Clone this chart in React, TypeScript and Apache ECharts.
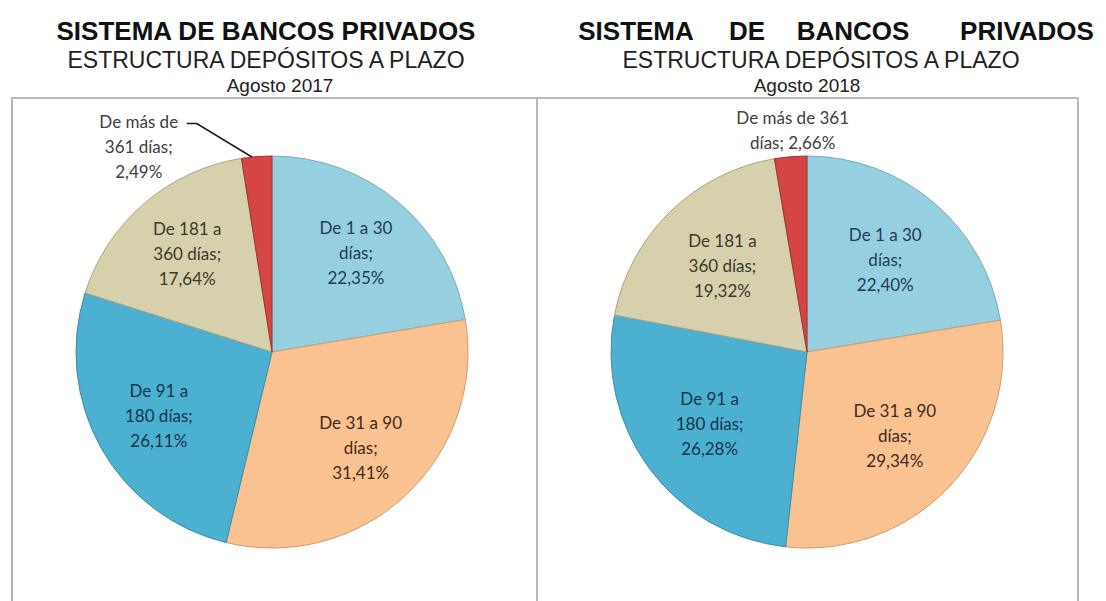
import React, { useEffect, useRef } from 'react';
import * as echarts from 'echarts';

const categories = ['De 1 a 30 días', 'De 31 a 90 días', 'De 91 a 180 días', 'De 181 a 360 días', 'De más de 361 días'];
const values2017 = [22.35, 31.41, 26.11, 17.64, 2.49];
const values2018 = [22.4, 29.34, 26.28, 19.32, 2.66];
const labelText2017 = ['De 1 a 30\ndías;', 'De 31 a 90\ndías;', 'De 91 a\n180 días;', 'De 181 a\n360 días;', 'De más de\n361 días;'];
const labelText2018 = ['De 1 a 30\ndías;', 'De 31 a 90\ndías;', 'De 91 a\n180 días;', 'De 181 a\n360 días;', 'De más de 361\ndías;'];
const valueSep2017 = ['\n', '\n', '\n', '\n', '\n'];
const valueSep2018 = ['\n', '\n', '\n', '\n', ' '];

const titleMain = 'SISTEMA DE BANCOS PRIVADOS';
const titleWords = ['SISTEMA', 'DE', 'BANCOS', 'PRIVADOS'];
const subtitle = 'ESTRUCTURA DEPÓSITOS A PLAZO';
const period2017 = 'Agosto 2017';
const period2018 = 'Agosto 2018';

const sliceColors = ['#96D0E0', '#FAC290', '#4CB1D0', '#D6D0AD', '#D64545'];
const borderColors = ['#74AEBF', '#CF9C6E', '#3A8DAA', '#ACA482', '#9E3232'];
const labelColors = ['#1F3B5A', '#3E2B1C', '#183450', '#3C3A2A', '#404040'];

const fmtPct = (v: number) => v.toFixed(2).replace('.', ',') + '%';

function buildSeries(
  values: number[],
  texts: string[],
  seps: string[],
  center: [number, number],
  radius: number,
  labelRadius: [number, number],
  withLine: boolean
) {
  const fmt = (i: number) => texts[i] + seps[i] + fmtPct(values[i]);
  const main = {
    type: 'pie',
    center,
    radius: [0, radius],
    startAngle: 90,
    clockwise: true,
    silent: true,
    avoidLabelOverlap: false,
    emphasis: { disabled: true },
    data: values.map((v, i) => ({
      value: v,
      name: categories[i],
      itemStyle: { color: sliceColors[i], borderColor: borderColors[i], borderWidth: 1 },
      label: { show: i === 4 },
      labelLine: { show: i === 4 && withLine },
    })),
    label: {
      position: 'outside',
      formatter: (p: any) => fmt(p.dataIndex),
      fontFamily: 'Lato',
      fontSize: 17,
      lineHeight: 25,
      color: labelColors[4],
      align: 'center',
    },
    labelLine: { length: 20, length2: 10, lineStyle: { color: '#1A1A1A', width: 1.5 } },
    labelLayout: (params: any) => {
      if (params.dataIndex !== 4) return {};
      const r = params.rect;
      const sx = r.x + r.width / 2;
      const sy = r.y;
      if (withLine) {
        return {
          x: sx - 118,
          y: sy - 9,
          align: 'center',
          verticalAlign: 'middle',
          labelLinePoints: [
            [sx - 4, sy + 2],
            [sx - 60, sy - 32],
            [sx - 70, sy - 32],
          ],
        };
      }
      return { x: sx + 2, y: sy - 26, align: 'center', verticalAlign: 'middle' };
    },
  };
  const labels = {
    type: 'pie',
    center,
    radius: labelRadius,
    startAngle: 90,
    clockwise: true,
    silent: true,
    avoidLabelOverlap: false,
    emphasis: { disabled: true },
    itemStyle: { color: 'rgba(0,0,0,0)', borderWidth: 0 },
    data: values.map((v, i) => ({
      value: v,
      name: categories[i],
      label: { show: i !== 4, color: labelColors[i] },
    })),
    label: {
      position: 'inside',
      formatter: (p: any) => fmt(p.dataIndex),
      fontFamily: 'Lato',
      fontSize: 17,
      lineHeight: 25,
      align: 'center',
    },
    labelLine: { show: false },
  };
  return [main, labels];
}

export default function App() {
  const ref = useRef<HTMLDivElement>(null);
  useEffect(() => {
    if (!ref.current) return;
    const chart = echarts.init(ref.current, undefined, { renderer: 'svg' });
    const titleFont = 'Liberation Sans, Arial, sans-serif';
    const boldStyle = { fontFamily: titleFont, fontWeight: 'bold', fontSize: 26, color: '#111' };
    const subStyle = { fontFamily: titleFont, fontWeight: 'normal', fontSize: 23, color: '#222' };
    const perStyle = { fontFamily: titleFont, fontWeight: 'normal', fontSize: 19, color: '#222' };
    const wordCenters = [636, 747, 853, 1027];
    chart.setOption({
      animation: false,
      backgroundColor: '#ffffff',
      title: [
        { text: titleMain, left: 266, top: 18, textAlign: 'center', padding: 0, textStyle: boldStyle },
        { text: subtitle, left: 266, top: 48, textAlign: 'center', padding: 0, textStyle: subStyle },
        { text: period2017, left: 280, top: 76, textAlign: 'center', padding: 0, textStyle: perStyle },
        ...titleWords.map((w, i) => ({
          text: w,
          left: wordCenters[i],
          top: 18,
          textAlign: 'center',
          padding: 0,
          textStyle: boldStyle,
        })),
        { text: subtitle, left: 821, top: 48, textAlign: 'center', padding: 0, textStyle: subStyle },
        { text: period2018, left: 807, top: 76, textAlign: 'center', padding: 0, textStyle: perStyle },
      ],
      graphic: [
        {
          type: 'rect',
          shape: { x: 12, y: 98, width: 525, height: 530 },
          style: { fill: 'none', stroke: '#B8B8B8', lineWidth: 2 },
          silent: true,
        },
        {
          type: 'rect',
          shape: { x: 537, y: 98, width: 541, height: 530 },
          style: { fill: 'none', stroke: '#B8B8B8', lineWidth: 2 },
          silent: true,
        },
      ],
      series: [
        ...buildSeries(values2017, labelText2017, valueSep2017, [272, 352], 196, [92, 162], true),
        ...buildSeries(values2018, labelText2018, valueSep2018, [807, 352], 196, [80, 156], false),
      ],
    });
    return () => chart.dispose();
  }, []);
  return (
    <div
      ref={ref}
      style={{ position: 'absolute', left: 0, top: 0, width: 1106, height: 601, background: '#fff' }}
    />
  );
}
